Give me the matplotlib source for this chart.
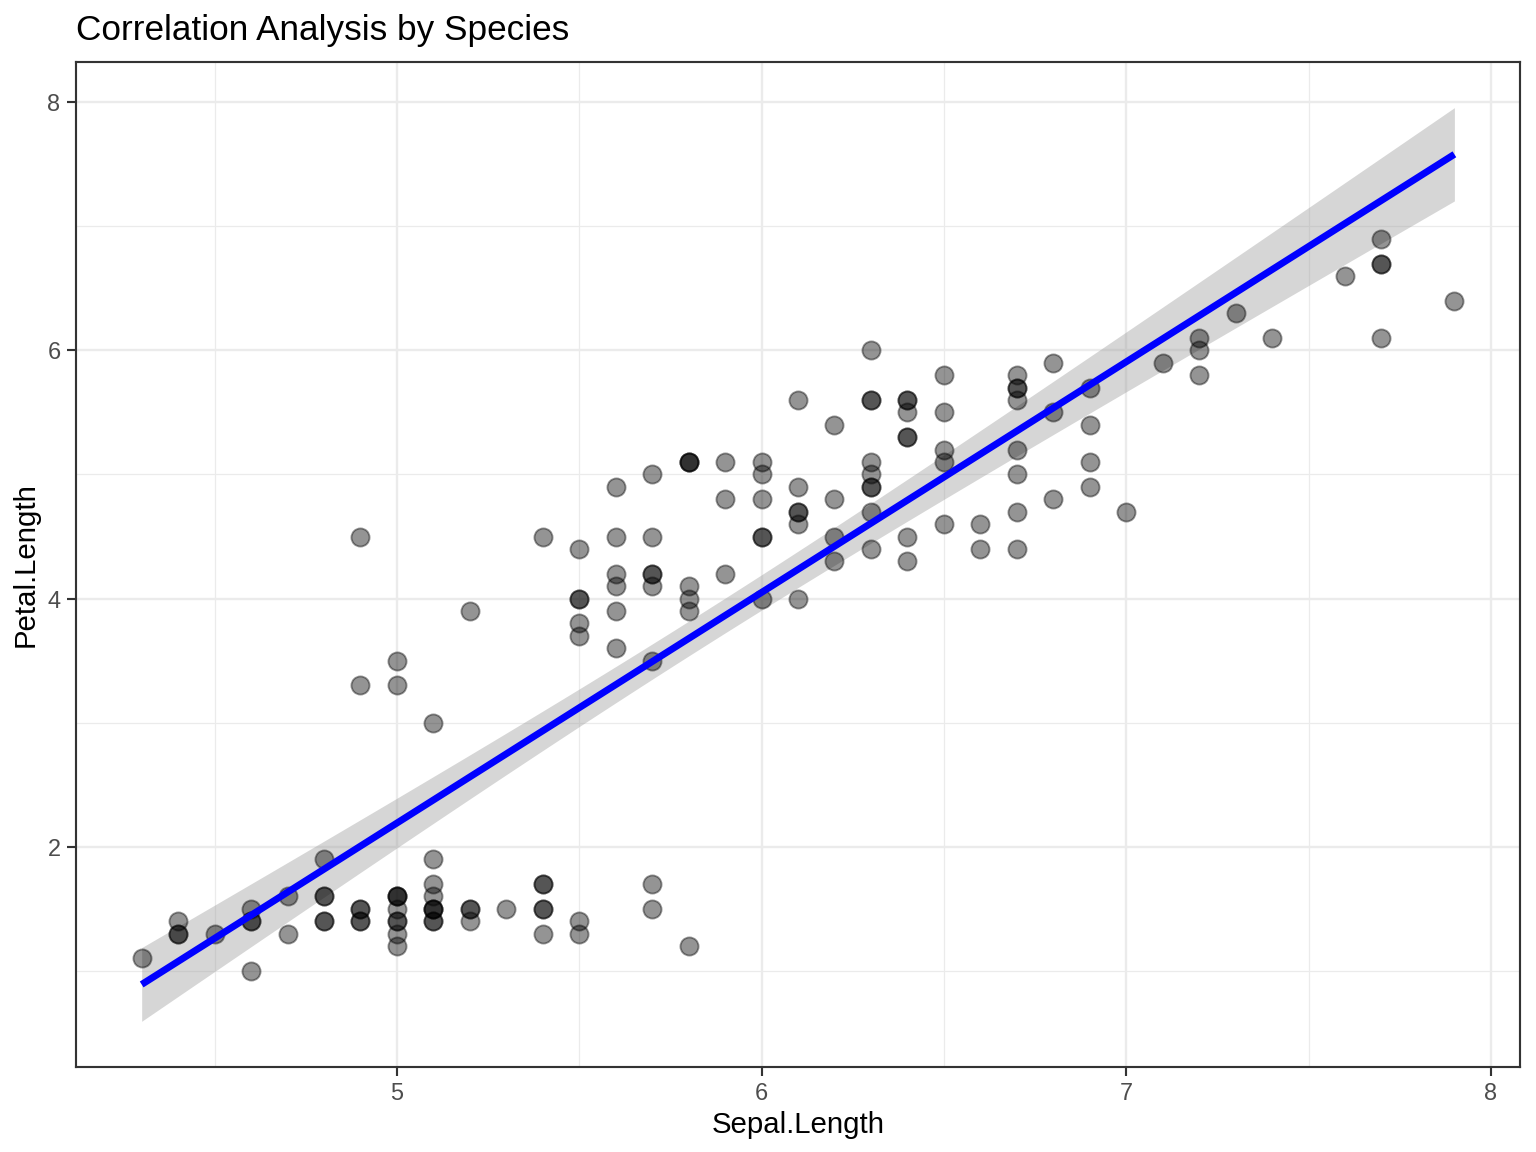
import numpy as np
import matplotlib
matplotlib.use("Agg")
import matplotlib.pyplot as plt

# --- Data (iris: Sepal.Length vs Petal.Length) ---
sepal_setosa = [5.1, 4.9, 4.7, 4.6, 5.0, 5.4, 4.6, 5.0, 4.4, 4.9, 5.4, 4.8, 4.8, 4.3, 5.8, 5.7, 5.4,
                5.1, 5.7, 5.1, 5.4, 5.1, 4.6, 5.1, 4.8, 5.0, 5.0, 5.2, 5.2, 4.7, 4.8, 5.4, 5.2, 5.5,
                4.9, 5.0, 5.5, 4.9, 4.4, 5.1, 5.0, 4.5, 4.4, 5.0, 5.1, 4.8, 5.1, 4.6, 5.3, 5.0]
petal_setosa = [1.4, 1.4, 1.3, 1.5, 1.4, 1.7, 1.4, 1.5, 1.4, 1.5, 1.5, 1.6, 1.4, 1.1, 1.2, 1.5, 1.3,
                1.4, 1.7, 1.5, 1.7, 1.5, 1.0, 1.7, 1.9, 1.6, 1.6, 1.5, 1.4, 1.6, 1.6, 1.5, 1.5, 1.4,
                1.5, 1.2, 1.3, 1.4, 1.3, 1.5, 1.3, 1.3, 1.3, 1.6, 1.9, 1.4, 1.6, 1.4, 1.5, 1.4]
sepal_versicolor = [7.0, 6.4, 6.9, 5.5, 6.5, 5.7, 6.3, 4.9, 6.6, 5.2, 5.0, 5.9, 6.0, 6.1, 5.6, 6.7, 5.6,
                    5.8, 6.2, 5.6, 5.9, 6.1, 6.3, 6.1, 6.4, 6.6, 6.8, 6.7, 6.0, 5.7, 5.5, 5.5, 5.8, 6.0,
                    5.4, 6.0, 6.7, 6.3, 5.6, 5.5, 5.5, 6.1, 5.8, 5.0, 5.6, 5.7, 5.7, 6.2, 5.1, 5.7]
petal_versicolor = [4.7, 4.5, 4.9, 4.0, 4.6, 4.5, 4.7, 3.3, 4.6, 3.9, 3.5, 4.2, 4.0, 4.7, 3.6, 4.4, 4.5,
                    4.1, 4.5, 3.9, 4.8, 4.0, 4.9, 4.7, 4.3, 4.4, 4.8, 5.0, 4.5, 3.5, 3.8, 3.7, 3.9, 5.1,
                    4.5, 4.5, 4.7, 4.4, 4.1, 4.0, 4.4, 4.6, 4.0, 3.3, 4.2, 4.2, 4.2, 4.3, 3.0, 4.1]
sepal_virginica = [6.3, 5.8, 7.1, 6.3, 6.5, 7.6, 4.9, 7.3, 6.7, 7.2, 6.5, 6.4, 6.8, 5.7, 5.8, 6.4, 6.5,
                   7.7, 7.7, 6.0, 6.9, 5.6, 7.7, 6.3, 6.7, 7.2, 6.2, 6.1, 6.4, 7.2, 7.4, 7.9, 6.4, 6.3,
                   6.1, 7.7, 6.3, 6.4, 6.0, 6.9, 6.7, 6.9, 5.8, 6.8, 6.7, 6.7, 6.3, 6.5, 6.2, 5.9]
petal_virginica = [6.0, 5.1, 5.9, 5.6, 5.8, 6.6, 4.5, 6.3, 5.8, 6.1, 5.1, 5.3, 5.5, 5.0, 5.1, 5.3, 5.5,
                   6.7, 6.9, 5.0, 5.7, 4.9, 6.7, 4.9, 5.7, 6.0, 4.8, 4.9, 5.6, 5.8, 6.1, 6.4, 5.6, 5.1,
                   5.6, 6.1, 5.6, 5.5, 4.8, 5.4, 5.6, 5.1, 5.1, 5.9, 5.7, 5.2, 5.0, 5.2, 5.4, 5.1]

x = np.array(sepal_setosa + sepal_versicolor + sepal_virginica)
y = np.array(petal_setosa + petal_versicolor + petal_virginica)

# --- Linear fit with 95% confidence band (like geom_smooth(method = "lm")) ---
n = len(x)
slope, intercept = np.polyfit(x, y, 1)
resid = y - (slope * x + intercept)
s = np.sqrt(np.sum(resid ** 2) / (n - 2))
xg = np.linspace(x.min(), x.max(), 80)
yg = slope * xg + intercept
se = s * np.sqrt(1 / n + (xg - x.mean()) ** 2 / np.sum((x - x.mean()) ** 2))
t_crit = 1.976  # t(0.975, df=148)
lo, hi = yg - t_crit * se, yg + t_crit * se

plt.rcParams['font.family'] = ['Liberation Sans', 'DejaVu Sans']
fig = plt.figure(figsize=(8, 6), dpi=192)
ax = fig.add_axes([0.0495, 0.0738, 0.9401, 0.8724])

ax.fill_between(xg, lo, hi, color='#999999', alpha=0.4, linewidth=0, zorder=2)
ax.scatter(x, y, s=46, color=(0, 0, 0, 0.42), edgecolors=(0, 0, 0, 0.42),
           linewidths=0.7, zorder=3)
ax.plot(xg, yg, color='blue', linewidth=2.6, zorder=4, solid_capstyle='butt')

# axis limits with 5% expansion
xr = x.max() - x.min()
ax.set_xlim(x.min() - 0.05 * xr, x.max() + 0.05 * xr)
ymin, ymax = min(y.min(), lo.min()), max(y.max(), hi.max())
yr = ymax - ymin
ax.set_ylim(ymin - 0.05 * yr, ymax + 0.05 * yr)

ax.set_xticks([5, 6, 7, 8])
ax.set_yticks([2, 4, 6, 8])
ax.set_xticks([4.5, 5.5, 6.5, 7.5], minor=True)
ax.set_yticks([1, 3, 5, 7], minor=True)
ax.grid(which='major', color='#EBEBEB', linewidth=0.9, zorder=0)
ax.grid(which='minor', color='#EBEBEB', linewidth=0.45, zorder=0)
ax.set_axisbelow(True)
ax.tick_params(which='major', length=3.3, width=0.8, color='#333333',
               labelsize=8.8, labelcolor='#4D4D4D', pad=2.5)
ax.tick_params(which='minor', length=0)
for sp in ax.spines.values():
    sp.set_color('#333333')
    sp.set_linewidth(0.8)

ax.set_xlabel('Sepal.Length', fontsize=11, labelpad=2)
ax.set_ylabel('Petal.Length', fontsize=11, labelpad=3)
fig.text(0.0495, 0.959, 'Correlation Analysis by Species', fontsize=13.2, ha='left', va='bottom')

fig.savefig('out.png', dpi=192)
